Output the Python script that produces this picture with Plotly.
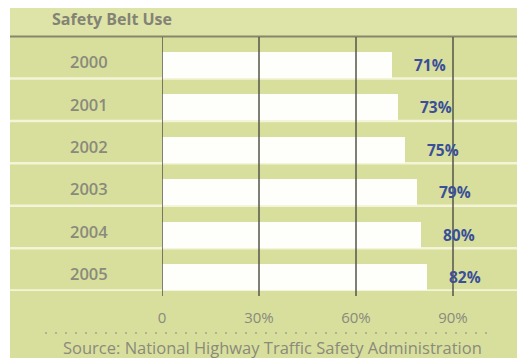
import plotly.graph_objects as go

# ---- data ----
years = ["2000", "2001", "2002", "2003", "2004", "2005"]
belt_use = [71, 73, 75, 79, 80, 82]
tick_values = [0, 30, 60, 90]
tick_labels = ["0", "30%", "60%", "90%"]
title_text = "Safety Belt Use"
source_text = "Source: National Highway Traffic Safety Administration"

# ---- geometry helpers (pixels -> paper) ----
W, H = 517, 358
L, R, T, B = 162, 5, 37, 67
PW, PH = W - L - R, H - T - B

def px(xp):
    return (xp - L) / PW

def py(yp):
    return (H - B - yp) / PH

BG = "#d8df9c"
HEADER = "#dee4a8"
BAR = "#fefefa"
SEP = "#f4f4d8"
GRID = "#55554a"
GREY = "#8a8a7c"
BLUE = "#3b4f98"

pos = list(range(len(years)))

fig = go.Figure()
fig.add_trace(go.Bar(
    x=belt_use, y=pos, orientation="h",
    marker=dict(color=BAR, line=dict(width=0)),
    width=0.61, hoverinfo="skip", showlegend=False,
))

shapes = []
shapes.append(dict(type="rect", xref="paper", yref="paper",
                   x0=px(10), x1=px(517), y0=py(358), y1=py(8),
                   fillcolor=BG, line=dict(width=0), layer="below"))
shapes.append(dict(type="rect", xref="paper", yref="paper",
                   x0=px(10), x1=px(517), y0=py(36), y1=py(8),
                   fillcolor=HEADER, line=dict(width=0), layer="below"))
for i in pos:
    shapes.append(dict(type="line", xref="paper", yref="y",
                       x0=px(10), x1=px(517), y0=i + 0.32, y1=i + 0.32,
                       line=dict(color=SEP, width=2.5), layer="below"))
shapes.append(dict(type="line", xref="paper", yref="paper",
                   x0=px(10), x1=px(517), y0=py(36.5), y1=py(36.5),
                   line=dict(color="#85866a", width=2), layer="above"))
for tv in tick_values:
    shapes.append(dict(type="line", xref="x", yref="paper",
                       x0=tv, x1=tv, y0=py(296), y1=py(37),
                       line=dict(color=GRID, width=1.5), layer="above"))
shapes.append(dict(type="line", xref="paper", yref="paper",
                   x0=px(45), x1=px(490), y0=py(333), y1=py(333),
                   line=dict(color="#a4a490", width=1.5, dash="2px,8px"),
                   layer="above"))

annotations = []
annotations.append(dict(xref="paper", yref="paper", x=px(50), y=py(19),
                        xanchor="left", yanchor="middle", showarrow=False,
                        text="<b>" + title_text + "</b>",
                        font=dict(family="Open Sans", size=16, color="#838375")))
for i, yr in zip(pos, years):
    annotations.append(dict(xref="paper", yref="y", x=px(89), y=i - 0.08,
                            xanchor="center", yanchor="middle", showarrow=False,
                            text=yr,
                            font=dict(family="Open Sans", size=16.5, color=GREY,
                                      weight=600)))
for i, v in zip(pos, belt_use):
    annotations.append(dict(xref="x", yref="y", x=v, y=i,
                            xanchor="left", yanchor="middle", showarrow=False,
                            xshift=20, text="<b>%d%%</b>" % v,
                            font=dict(family="Open Sans", size=15.5, color=BLUE)))
annotations.append(dict(xref="paper", yref="paper", x=px(272), y=py(347),
                        xanchor="center", yanchor="middle", showarrow=False,
                        text=source_text,
                        font=dict(family="Open Sans", size=16.5, color=GREY)))

fig.update_layout(
    width=W, height=H,
    margin=dict(l=L, r=R, t=T, b=B, pad=0),
    paper_bgcolor="white",
    plot_bgcolor="rgba(0,0,0,0)",
    shapes=shapes,
    annotations=annotations,
    bargap=0,
    xaxis=dict(range=[0, PW * 30 / 97], tickvals=tick_values, ticktext=tick_labels,
               showgrid=False, zeroline=False, showline=False,
               ticks="outside", ticklen=13, tickcolor="rgba(0,0,0,0)",
               tickfont=dict(family="Open Sans", size=15, color=GREY),
               fixedrange=True),
    yaxis=dict(range=[5.33, -0.66], showticklabels=False, showgrid=False,
               zeroline=False, showline=False, fixedrange=True),
)

fig.write_html("out.html")
